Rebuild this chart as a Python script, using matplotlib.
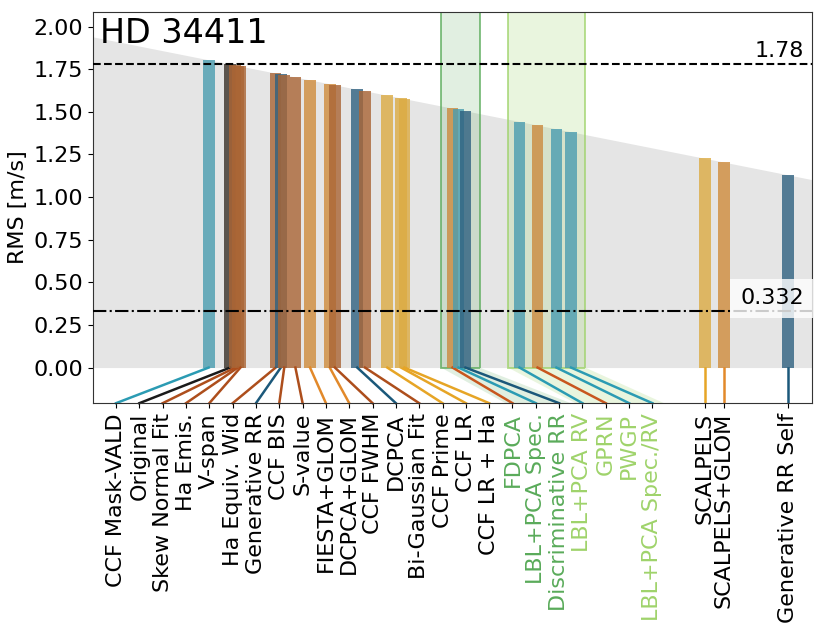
import numpy as np
import matplotlib
matplotlib.use('Agg')
import matplotlib.pyplot as plt
from matplotlib.patches import Rectangle, Polygon

# method names (x tick labels), RMS values [m/s] and colour group of each method
methods = ['CCF Mask-VALD', 'Original', 'Skew Normal Fit', 'Ha Emis.', 'V-span',
           'Ha Equiv. Wid', 'Generative RR', 'CCF BIS', 'S-value', 'FIESTA+GLOM',
           'DCPCA+GLOM', 'CCF FWHM', 'DCPCA', 'Bi-Gaussian Fit', 'CCF Prime',
           'CCF LR', 'CCF LR + Ha', 'FDPCA', 'LBL+PCA Spec.', 'Discriminative RR',
           'LBL+PCA RV', 'GPRN', 'PWGP', 'LBL+PCA Spec./RV']
rms = [1.805, 1.780, 1.774, 1.771, 1.768,
       1.727, 1.721, 1.717, 1.704, 1.687,
       1.664, 1.658, 1.632, 1.623, 1.597,
       1.581, 1.577, 1.521, 1.514, 1.506,
       1.443, 1.422, 1.400, 1.383]
groups = ['teal', 'black', 'brown', 'brown', 'brown',
          'brown', 'navy', 'brown', 'brown', 'orange',
          'orange', 'brown', 'navy', 'brown', 'yellow',
          'yellow', 'yellow', 'red', 'teal', 'navy',
          'teal', 'red', 'teal', 'teal']

# methods drawn with their own tick under the bar
solo_methods = ['SCALPELS', 'SCALPELS+GLOM', 'Generative RR Self']
solo_rms = [1.227, 1.205, 1.130]
solo_groups = ['yellow', 'orange', 'navy']

original_rms = 1.78
floor_rms = 0.332

# highlighted blocks: (first index, last index) into methods
block1 = (17, 19)
block2 = (20, 23)

colors = {'teal': '#2b9bb3', 'black': '#1a1a1a', 'brown': '#ad4e1c',
          'navy': '#1b587a', 'orange': '#e2892a', 'yellow': '#e6a526',
          'red': '#c8561e'}
bar_colors = {'teal': '#4a9db0', 'black': '#3a3128', 'brown': '#aa6535',
              'navy': '#2f6180', 'orange': '#cf8b3b', 'yellow': '#dcab42',
              'red': '#cc8a3e'}
green1 = '#5aab5a'
green2 = '#9fd36b'

xmax, xmin = 1.940, 1.102
ybot, ytop = -0.209, 2.088
width = 0.0136

fig = plt.figure(figsize=(8.21, 6.41), dpi=100)
ax = fig.add_axes([0.113, 0.371, 0.8764, 0.6109])

# grey triangle under the y = x diagonal
xs = np.array([xmax, xmin])
ax.fill_between(xs, 0, xs, color='#e5e5e5', lw=0, zorder=0)

# ticks: evenly spaced for the sorted methods, under the bar for solo ones
tick_pos = np.linspace(1.9129, 1.2882, len(methods))

for (i0, i1), gc, a in [(block1, green1, 0.18), (block2, green2, 0.22)]:
    left = rms[i0] + 0.0135
    right = rms[i1] - 0.0165
    ax.add_patch(Rectangle((right, 0), left - right, ytop + 0.1,
                           facecolor=gc, alpha=a, edgecolor='none', zorder=1))
    ax.add_patch(Rectangle((right, 0), left - right, ytop + 0.1,
                           facecolor='none', edgecolor=gc, lw=1.3, alpha=0.8,
                           zorder=1.5))
    sp = tick_pos[0] - tick_pos[1]
    poly = [(left, 0), (right, 0), (tick_pos[i1] - 0.5 * sp, ybot),
            (tick_pos[i0] + 0.3 * sp, ybot)]
    ax.add_patch(Polygon(poly, closed=True, facecolor=gc, alpha=a,
                         edgecolor='none', zorder=1))

for r, g, t in zip(rms, groups, tick_pos):
    ax.bar(r, r, width=width, color=bar_colors[g], alpha=0.8, zorder=2)
    ax.plot([r, t], [0, ybot], color=colors[g], lw=1.8, zorder=2,
            clip_on=False)

for r, g in zip(solo_rms, solo_groups):
    ax.bar(r, r, width=width, color=bar_colors[g], alpha=0.8, zorder=2)
    ax.plot([r, r], [0, ybot], color=colors[g], lw=1.8, zorder=2)

ax.axhline(original_rms, color='k', ls='--', lw=1.5, zorder=3)
ax.axhline(floor_rms, color='k', ls='-.', lw=1.5, zorder=3)
trans = ax.get_yaxis_transform()
ax.text(0.988, original_rms + 0.02, f'{original_rms:.2f}', transform=trans,
        ha='right', va='bottom', fontsize=16, zorder=4)
ax.text(0.988, floor_rms + 0.015, f'{floor_rms:.3f}', transform=trans,
        ha='right', va='bottom', fontsize=16, zorder=4,
        bbox=dict(facecolor='white', edgecolor='none', alpha=0.8, pad=7))

ax.text(0.01, 0.985, 'HD 34411', transform=ax.transAxes, ha='left',
        va='top', fontsize=24, zorder=4)

ax.set_xlim(xmax, xmin)
ax.set_ylim(ybot, ytop)
ax.set_yticks(np.arange(0, 2.01, 0.25))
ax.set_yticklabels([f'{v:.2f}' for v in np.arange(0, 2.01, 0.25)])
ax.set_ylabel('RMS [m/s]', fontsize=16)
ax.tick_params(labelsize=16)

all_ticks = list(tick_pos) + solo_rms
all_labels = methods + solo_methods
ax.set_xticks(all_ticks)
ax.set_xticklabels(all_labels, rotation=90, fontsize=16)
for i, lab in enumerate(ax.get_xticklabels()):
    if block1[0] <= i <= block1[1]:
        lab.set_color(green1)
    elif block2[0] <= i <= block2[1]:
        lab.set_color(green2)

for s in ax.spines.values():
    s.set_color('#333333')

fig.savefig('out.png', dpi=100)
